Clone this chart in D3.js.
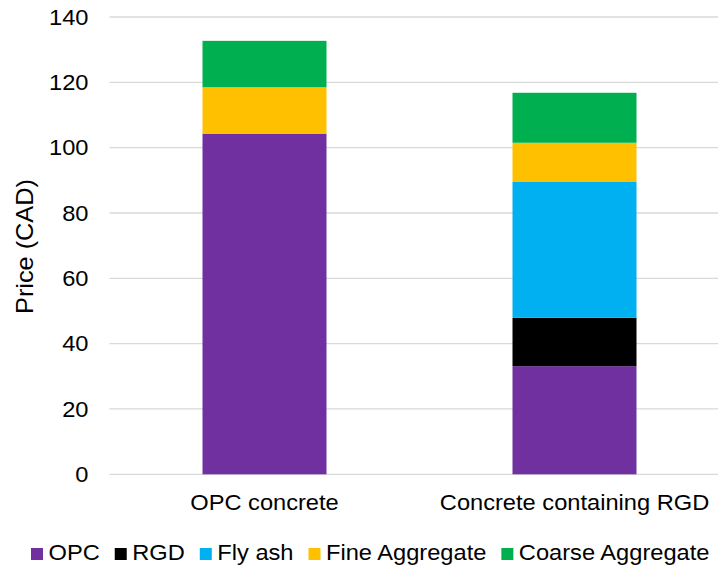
<!DOCTYPE html>
<html>
<head>
<meta charset="utf-8">
<script src="https://cdn.jsdelivr.net/npm/d3@7"></script>
<style>
    body { margin: 0; background: #fff; }
    text { font-family: "Liberation Sans", Arial, sans-serif; fill: #000; }
</style>
</head>
<body>
<div class="chart"></div>
<script>
// values
const categories = ["OPC concrete", "Concrete containing RGD"];
const seriesNames = ["OPC", "RGD", "Fly ash", "Fine Aggregate", "Coarse Aggregate"];
const opc = [104.3, 33.1];
const rgd = [0, 14.8];
const flyAsh = [0, 41.6];
const fineAgg = [14.2, 12.0];
const coarseAgg = [14.2, 15.3];
const yTicks = [0, 20, 40, 60, 80, 100, 120, 140];

const colors = ["#7030A0", "#000000", "#00B0F0", "#FFC000", "#00B050"];

// build rows for d3.stack
let rows = categories.map((c, i) => ({
    cat: c,
    "OPC": opc[i],
    "RGD": rgd[i],
    "Fly ash": flyAsh[i],
    "Fine Aggregate": fineAgg[i],
    "Coarse Aggregate": coarseAgg[i]
}));

const W = 718, H = 567;
const sx = 1.1; // text in the picture is a bit wider than plain Arial

let svg = d3.select(".chart").append("svg")
    .attr("width", W)
    .attr("height", H);

let x = d3.scaleBand()
    .domain(categories)
    .range([109.5, 729.5])
    .paddingInner(0.6)
    .paddingOuter(0.3);

let y = d3.scaleLinear()
    .domain([0, 140])
    .range([474.3, 17]);

// gridlines
svg.append("g")
    .selectAll("line")
    .data(yTicks)
    .enter().append("line")
    .attr("x1", 109.5)
    .attr("x2", 729.5)
    .attr("y1", d => y(d))
    .attr("y2", d => y(d))
    .attr("stroke", "#D9D9D9")
    .attr("stroke-width", 1.3);

// y tick labels
svg.append("g")
    .selectAll("text")
    .data(yTicks)
    .enter().append("text")
    .attr("transform", d => "translate(88.5," + y(d) + ") scale(" + sx + ",1)")
    .attr("dy", "0.36em")
    .attr("text-anchor", "end")
    .style("font-size", "21.5px")
    .text(d => d);

// y axis title
svg.append("text")
    .attr("transform", "translate(33,246.5) rotate(-90) scale(" + sx + ",1)")
    .attr("text-anchor", "middle")
    .style("font-size", "23px")
    .text("Price (CAD)");

// stacked bars
let stack = d3.stack().keys(seriesNames);
let layers = stack(rows);

svg.append("g")
    .selectAll("g")
    .data(layers)
    .enter().append("g")
    .attr("fill", (d, i) => colors[i])
    .selectAll("rect")
    .data(d => d)
    .enter().append("rect")
    .attr("x", d => x(d.data.cat))
    .attr("width", x.bandwidth())
    .attr("y", d => y(d[1]))
    .attr("height", d => y(d[0]) - y(d[1]));

// category labels
svg.append("g")
    .selectAll("text")
    .data(categories)
    .enter().append("text")
    .attr("transform", d => "translate(" + (x(d) + x.bandwidth() / 2) + ",510) scale(" + sx + ",1)")
    .attr("text-anchor", "middle")
    .style("font-size", "21.5px")
    .text(d => d);

// legend
let legend = svg.append("g");
let lx = 31;
seriesNames.forEach((name, i) => {
    legend.append("rect")
        .attr("x", lx)
        .attr("y", 548)
        .attr("width", 12)
        .attr("height", 12)
        .attr("fill", colors[i]);
    let t = legend.append("text")
        .attr("transform", "translate(" + (lx + 17.5) + ",560) scale(" + sx + ",1)")
        .style("font-size", "21.5px")
        .text(name);
    let w = t.node().getComputedTextLength() * sx;
    lx = lx + 17.5 + w + 15;
});
</script>
</body>
</html>
